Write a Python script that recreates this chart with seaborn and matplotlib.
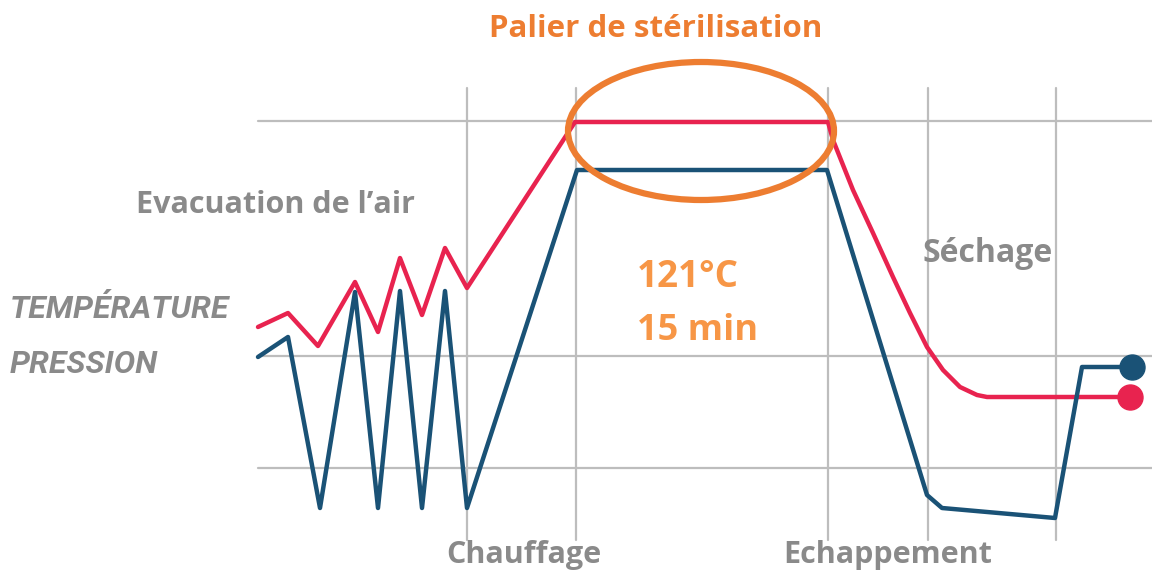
import numpy as np
import pandas as pd
import matplotlib.pyplot as plt
import seaborn as sns
from matplotlib.patches import Ellipse

# Cycle profile (x = time position, y = level, top = 0)
temp_x = [258, 288, 318, 355, 378, 400, 422, 445, 467, 575, 828, 833, 853, 873, 893, 910, 927, 943, 960, 977, 987, 1130]
temp_y = [327, 313, 346, 282, 332, 258, 315, 248, 288, 122, 122, 140, 190, 233, 277, 313, 347, 370, 387, 395, 397, 397]

pres_x = [258, 288, 320, 355, 378, 400, 422, 445, 467, 577, 827, 927, 942, 1055, 1082, 1132]
pres_y = [357, 337, 508, 292, 508, 291, 508, 291, 508, 170, 170, 495, 508, 518, 367, 367]

grid_v = [467, 576, 828, 928, 1056]
grid_h = [121, 356, 468]

phase_labels = ['Chauffage', 'Echappement']
phase_pos = [524, 888]

RED = '#E8234F'
BLUE = '#1A5276'
ORANGE = '#ED7D31'
ORANGE_LIGHT = '#F79646'
GRAY = '#8A8A8A'

sns.set_style('white')
plt.rcParams['font.family'] = ['Open Sans', 'DejaVu Sans']

fig = plt.figure(figsize=(11.52, 5.71), dpi=100)
ax = fig.add_axes([0, 0, 1, 1])

for x in grid_v:
    ax.plot([x, x], [88, 540], color='#BDBDBD', lw=1.6, zorder=1)
for y in grid_h:
    ax.plot([258, 1152], [y, y], color='#BDBDBD', lw=1.6, zorder=1)

temp = pd.DataFrame({'x': temp_x, 'y': temp_y})
pres = pd.DataFrame({'x': pres_x, 'y': pres_y})
sns.lineplot(data=temp, x='x', y='y', sort=False, color=RED, lw=3.2, ax=ax, zorder=3)
sns.lineplot(data=pres, x='x', y='y', sort=False, color=BLUE, lw=3.2, ax=ax, zorder=3)
ax.plot(temp_x[-1], temp_y[-1], 'o', color=RED, ms=18, zorder=4)
ax.plot(pres_x[-1], pres_y[-1], 'o', color=BLUE, ms=18, zorder=4)
ax.set_xlim(0, 1152)
ax.set_ylim(571, 0)
ax.axis('off')

ax.add_patch(Ellipse((701, 131), 266, 138, fill=False, ec=ORANGE, lw=4.5, zorder=5))

ax.text(656, 37, 'Palier de stérilisation', color=ORANGE, fontsize=22.5, fontweight='bold',
        ha='center', va='baseline')
ax.text(275, 213, 'Evacuation de l\u2019air', color=GRAY, fontsize=22, fontweight='bold',
        ha='center', va='baseline')
ax.text(637, 287, '121°C', color=ORANGE_LIGHT, fontsize=26.5, fontweight='bold', ha='left', va='baseline')
ax.text(637, 340, '15 min', color=ORANGE_LIGHT, fontsize=26, fontweight='bold', ha='left', va='baseline')
ax.text(988, 262, 'Séchage', color=GRAY, fontsize=23, fontweight='bold', ha='center', va='baseline')
for lbl, x in zip(phase_labels, phase_pos):
    ax.text(x, 563, lbl, color=GRAY, fontsize=22, fontweight='bold', ha='center', va='baseline')

ax.text(10, 318, 'TEMPÉRATURE', color=GRAY, fontsize=23, fontweight='bold', fontstyle='italic',
        family=['Roboto', 'DejaVu Sans'], ha='left', va='baseline')
ax.text(10, 373, 'PRESSION', color=GRAY, fontsize=23, fontweight='bold', fontstyle='italic',
        family=['Roboto', 'DejaVu Sans'], ha='left', va='baseline')

fig.savefig('out.png', dpi=100)
